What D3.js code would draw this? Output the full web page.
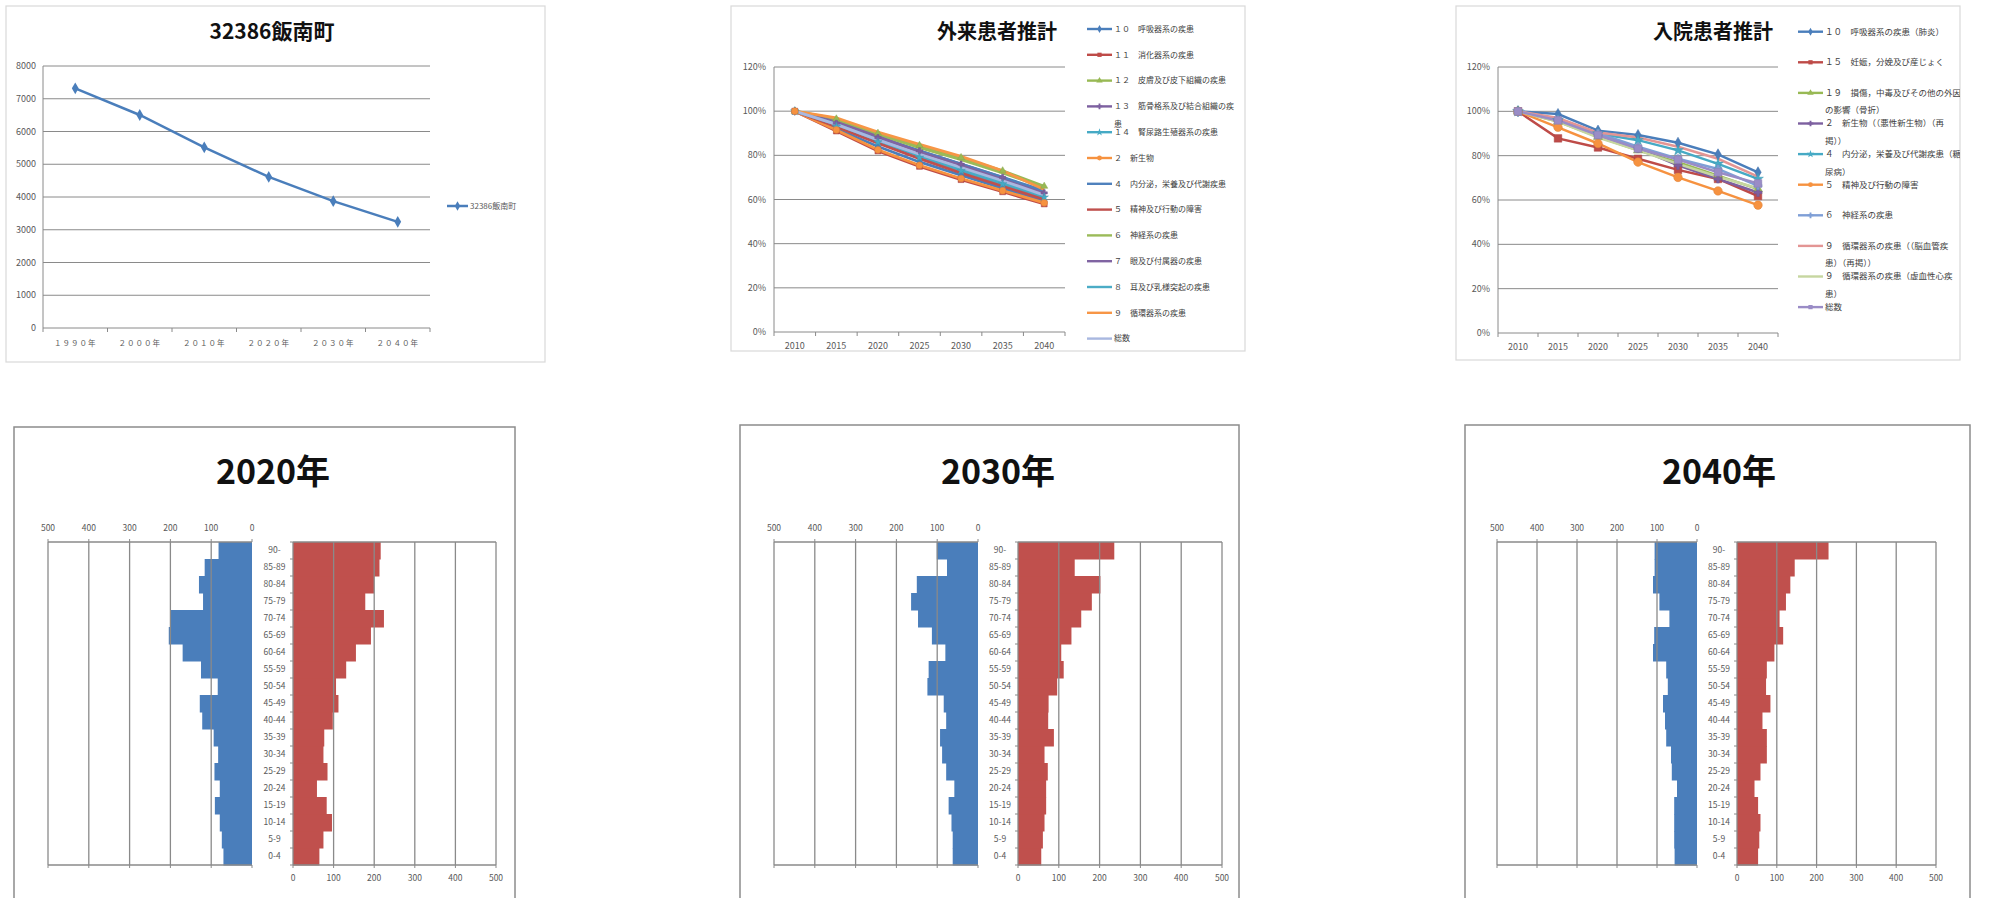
<!DOCTYPE html>
<html><head><meta charset="utf-8">
<script src="https://cdn.jsdelivr.net/npm/d3@7"></script>
<style>
html,body{margin:0;padding:0;background:#fff;}
svg{display:block;font-family:"Noto Sans CJK JP","Noto Sans",sans-serif;}
</style></head>
<body>
<svg id="c" width="1993" height="898"></svg>
<script>
// ---------------- DATA ----------------
const popTitle = "32386飯南町";
const popYears = ["１９９０年","２０００年","２０１０年","２０２０年","２０３０年","２０４０年"];
const popValues = [7317, 6504, 5518, 4614, 3872, 3242];
const popTicks = [0,1000,2000,3000,4000,5000,6000,7000,8000];

const projYears = ["2010","2015","2020","2025","2030","2035","2040"];
const pctTicks = [0,0.2,0.4,0.6,0.8,1.0,1.2];

const outTitle = "外来患者推計";
const outNames = [
  "１０　呼吸器系の疾患","１１　消化器系の疾患","１２　皮膚及び皮下組織の疾患",
  "１３　筋骨格系及び結合組織の疾|患","１４　腎尿路生殖器系の疾患","２　新生物",
  "４　内分泌，栄養及び代謝疾患","５　精神及び行動の障害","６　神経系の疾患",
  "７　眼及び付属器の疾患","８　耳及び乳様突起の疾患","９　循環器系の疾患","総数"];
const outValues = [
  [1.00,0.92,0.84,0.77,0.71,0.65,0.595],
  [1.00,0.91,0.82,0.75,0.69,0.635,0.58],
  [1.00,0.965,0.90,0.845,0.79,0.73,0.66],
  [1.00,0.945,0.88,0.82,0.76,0.70,0.63],
  [1.00,0.93,0.86,0.79,0.73,0.67,0.61],
  [1.00,0.915,0.825,0.755,0.695,0.64,0.585],
  [1.00,0.95,0.885,0.82,0.76,0.70,0.64],
  [1.00,0.93,0.855,0.785,0.72,0.66,0.60],
  [1.00,0.96,0.895,0.835,0.78,0.72,0.655],
  [1.00,0.95,0.885,0.815,0.755,0.69,0.625],
  [1.00,0.94,0.87,0.80,0.74,0.68,0.615],
  [1.00,0.97,0.905,0.85,0.795,0.73,0.645],
  [1.00,0.94,0.87,0.805,0.745,0.685,0.62]];
const outColors = ["#4A7EBB","#BE4B48","#98B954","#7D60A0","#46AAC5","#F69240",
  "#4F81BD","#C0504D","#9BBB59","#8064A2","#4BACC6","#F79646","#A9B8E0"];
const outMarkers = ["diamond","square","triangle","cross","star","circle",null,null,null,null,null,null,null];

const inTitle = "入院患者推計";
const inNames = [
  "１０　呼吸器系の疾患（肺炎）","１５　妊娠，分娩及び産じょく",
  "１９　損傷，中毒及びその他の外因|の影響（骨折）","２　新生物（（悪性新生物）（再|掲））",
  "４　内分泌，栄養及び代謝疾患（糖|尿病）","５　精神及び行動の障害","６　神経系の疾患",
  "９　循環器系の疾患（（脳血管疾|患）（再掲））","９　循環器系の疾患（虚血性心疾|患）","総数"];
const inValues = [
  [1.00,0.988,0.913,0.893,0.858,0.806,0.725],
  [1.00,0.878,0.837,0.786,0.736,0.695,0.618],
  [1.00,0.954,0.885,0.824,0.771,0.710,0.649],
  [1.00,0.959,0.893,0.832,0.756,0.695,0.634],
  [1.00,0.960,0.900,0.870,0.824,0.763,0.695],
  [1.00,0.928,0.855,0.771,0.702,0.641,0.577],
  [1.00,0.962,0.901,0.840,0.786,0.740,0.664],
  [1.00,0.970,0.904,0.882,0.840,0.786,0.705],
  [1.00,0.954,0.882,0.824,0.763,0.705,0.653],
  [1.00,0.959,0.893,0.832,0.782,0.725,0.675]];
const inColors = ["#4A7EBB","#BE4B48","#98B954","#7D60A0","#46AAC5","#F69240",
  "#7F9FD6","#E39594","#C6D6A0","#9A8CC6"];
const inMarkers = ["diamond","square","triangle","cross","star","circle","cross",null,null,"square"];

const ageGroups = ["0-4","5-9","10-14","15-19","20-24","25-29","30-34","35-39","40-44","45-49",
  "50-54","55-59","60-64","65-69","70-74","75-79","80-84","85-89","90-"];
const pyrTicks = [0,100,200,300,400,500];
// values listed from 0-4 up to 90-
const male2020   = [70,74,79,91,79,92,83,94,122,128,84,125,170,204,199,120,130,116,82];
const female2020 = [65,75,96,83,59,85,75,77,98,112,106,131,155,192,224,178,200,213,216];
const male2030   = [62,62,65,72,58,78,88,93,78,84,124,121,80,113,147,164,150,76,101];
const female2030 = [57,61,65,69,69,73,65,88,74,75,96,112,106,131,155,181,202,139,236];
const male2040   = [56,57,57,57,50,63,65,77,80,85,73,77,110,107,69,94,110,106,106];
const female2040 = [53,56,59,53,44,59,75,75,64,84,73,75,94,116,107,123,134,145,230];

// ---------------- DRAW ----------------
const svg = d3.select("#c");
svg.append("rect").attr("width",1993).attr("height",898).attr("fill","#fff");
const GRID = "#8a8a8a", TXT = "#595959";

function frame(x0,y0,x1,y1,col,w){
  svg.append("rect").attr("x",x0).attr("y",y0).attr("width",x1-x0).attr("height",y1-y0)
    .attr("fill","#fff").attr("stroke",col).attr("stroke-width",w);
}
function symbolType(n){
  return {diamond:d3.symbolDiamond,square:d3.symbolSquare,triangle:d3.symbolTriangle,
    cross:d3.symbolCross,star:d3.symbolStar,circle:d3.symbolCircle}[n];
}

// ---- Chart 1: population line ----
frame(6,6,545,362,"#d9d9d9",1.2);
{
  const g = svg.append("g");
  const x = d3.scaleBand().domain(popYears).range([43,430]);
  const y = d3.scaleLinear().domain([0,8000]).range([328,66]);
  g.selectAll(".gl").data(popTicks).join("line")
    .attr("x1",43).attr("x2",430).attr("y1",d=>y(d)).attr("y2",d=>y(d))
    .attr("stroke",GRID).attr("stroke-width",1);
  g.append("line").attr("x1",43).attr("x2",43).attr("y1",66).attr("y2",328).attr("stroke",GRID);
  const bounds = popYears.map(d=>x(d)).concat([430]);
  g.selectAll(".tk").data(bounds).join("line")
    .attr("x1",d=>d).attr("x2",d=>d).attr("y1",328).attr("y2",332).attr("stroke",GRID);
  g.selectAll(".yl").data(popTicks).join("text")
    .attr("x",36).attr("y",d=>y(d)).attr("dy","0.35em").attr("text-anchor","end")
    .attr("font-size",9).attr("fill",TXT).text(d=>d);
  g.selectAll(".xl").data(popYears).join("text")
    .attr("x",d=>x(d)+x.bandwidth()/2).attr("y",343).attr("dy","0.35em").attr("text-anchor","middle")
    .attr("font-size",7.5).attr("letter-spacing",1).attr("fill",TXT).text(d=>d);
  const line = d3.line().x((d,i)=>x(popYears[i])+x.bandwidth()/2).y(d=>y(d));
  g.append("path").attr("d",line(popValues)).attr("fill","none").attr("stroke","#4A7EBB").attr("stroke-width",2.5);
  g.selectAll(".mk").data(popValues).join("path")
    .attr("transform",(d,i)=>`translate(${x(popYears[i])+x.bandwidth()/2},${y(d)})`)
    .attr("d",d3.symbol(d3.symbolDiamond,40)).attr("fill","#4A7EBB");
  g.append("text").attr("x",272).attr("y",32).attr("dy","0.35em").attr("text-anchor","middle")
    .attr("font-size",21).attr("font-weight","bold").attr("fill","#111").text(popTitle);
  // legend
  g.append("line").attr("x1",447).attr("x2",468).attr("y1",206).attr("y2",206).attr("stroke","#4A7EBB").attr("stroke-width",2.5);
  g.append("path").attr("transform","translate(457.5,206)").attr("d",d3.symbol(d3.symbolDiamond,25)).attr("fill","#4A7EBB");
  g.append("text").attr("x",470).attr("y",206).attr("dy","0.35em").attr("font-size",8).attr("fill",TXT).text(popTitle);
}

// ---- Generic percentage line chart ----
function pctChart(cfg){
  frame(cfg.frame[0],cfg.frame[1],cfg.frame[2],cfg.frame[3],"#d9d9d9",1.2);
  const clipId = "clip"+cfg.id;
  svg.append("clipPath").attr("id",clipId).append("rect")
    .attr("x",cfg.frame[0]).attr("y",cfg.frame[1]).attr("width",cfg.frame[2]-cfg.frame[0]).attr("height",cfg.frame[3]-cfg.frame[1]);
  const g = svg.append("g").attr("clip-path",`url(#${clipId})`);
  const [L,T,R,B] = cfg.plot;
  const x = d3.scaleBand().domain(projYears).range([L,R]);
  const y = d3.scaleLinear().domain([0,1.2]).range([B,T]);
  g.selectAll(".gl").data(pctTicks).join("line")
    .attr("x1",L).attr("x2",R).attr("y1",d=>y(d)).attr("y2",d=>y(d)).attr("stroke",GRID);
  g.append("line").attr("x1",L).attr("x2",L).attr("y1",T).attr("y2",B).attr("stroke",GRID);
  const bounds = projYears.map(d=>x(d)).concat([R]);
  g.selectAll(".tk").data(bounds).join("line")
    .attr("x1",d=>d).attr("x2",d=>d).attr("y1",B).attr("y2",B+4).attr("stroke",GRID);
  g.selectAll(".yl").data(pctTicks).join("text")
    .attr("x",L-8).attr("y",d=>y(d)).attr("dy","0.35em").attr("text-anchor","end")
    .attr("font-size",9).attr("fill",TXT).text(d3.format(".0%"));
  g.selectAll(".xl").data(projYears).join("text")
    .attr("x",d=>x(d)+x.bandwidth()/2).attr("y",B+14).attr("dy","0.35em").attr("text-anchor","middle")
    .attr("font-size",9).attr("fill",TXT).text(d=>d);
  const cx = (i)=>x(projYears[i])+x.bandwidth()/2;
  const line = d3.line().x((d,i)=>cx(i)).y(d=>y(d));
  cfg.values.forEach((vals,s)=>{
    g.append("path").attr("d",line(vals)).attr("fill","none")
      .attr("stroke",cfg.colors[s]).attr("stroke-width",cfg.lw);
  });
  cfg.values.forEach((vals,s)=>{
    const m = cfg.markers[s];
    if(!m) return;
    g.selectAll(null).data(vals).join("path")
      .attr("transform",(d,i)=>`translate(${cx(i)},${y(d)})`)
      .attr("d",d3.symbol(symbolType(m), m==="circle"||m==="square" ? cfg.msize*1.6 : cfg.msize))
      .attr("fill",cfg.colors[s]).attr("stroke",d3.color(cfg.colors[s]).darker(0.3)).attr("stroke-width",0.5);
  });
  g.append("text").attr("x",cfg.titleX).attr("y",32).attr("dy","0.35em").attr("text-anchor","middle")
    .attr("font-size",20).attr("font-weight","bold").attr("fill","#111").text(cfg.title);
  // legend
  cfg.names.forEach((nm,s)=>{
    const yy = cfg.legY0 + s*cfg.legDY;
    g.append("line").attr("x1",cfg.legX).attr("x2",cfg.legX+25).attr("y1",yy).attr("y2",yy)
      .attr("stroke",cfg.colors[s]).attr("stroke-width",2.4);
    if(cfg.markers[s]){
      g.append("path").attr("transform",`translate(${cfg.legX+12.5},${yy})`)
        .attr("d",d3.symbol(symbolType(cfg.markers[s]),18)).attr("fill",cfg.colors[s]);
    }
    const parts = nm.split("|");
    parts.forEach((p,k)=>{
      g.append("text").attr("x",cfg.legX+27).attr("y",yy + k*cfg.wrapDY).attr("dy","0.35em")
        .attr("font-size",cfg.legFont).attr("fill","#404040").text(p);
    });
  });
}

pctChart({id:"out",frame:[731,6,1245,351],plot:[774,67,1065,332],values:outValues,colors:outColors,
  markers:outMarkers,msize:22,lw:2.8,title:outTitle,titleX:997,names:outNames,legX:1087,legY0:29,legDY:25.8,
  wrapDY:18,legFont:8});
pctChart({id:"in",frame:[1456,6,1960,360],plot:[1498,67,1778,333],values:inValues,colors:inColors,
  markers:inMarkers,msize:36,lw:2.5,title:inTitle,titleX:1713,names:inNames,legX:1798,legY0:31.7,legDY:30.6,
  wrapDY:17.5,legFont:8.5});

// ---- Pyramids ----
function pyramid(cfg){
  frame(cfg.frame[0],cfg.frame[1],cfg.frame[2],cfg.frame[3],"#8c8c8c",1.5);
  const g = svg.append("g");
  const T = 542, B = 865;
  const y = d3.scaleBand().domain(ageGroups.slice().reverse()).range([T,B]);
  const xl = d3.scaleLinear().domain([0,500]).range([cfg.l0,cfg.l500]);
  const xr = d3.scaleLinear().domain([0,500]).range([cfg.r0,cfg.r500]);
  // bars
  g.selectAll(".m").data(ageGroups).join("rect")
    .attr("x",(d,i)=>xl(cfg.male[i])).attr("width",(d,i)=>xl(0)-xl(cfg.male[i]))
    .attr("y",d=>y(d)).attr("height",y.bandwidth()+0.5).attr("fill","#4A7EBB");
  g.selectAll(".f").data(ageGroups).join("rect")
    .attr("x",xr(0)).attr("width",(d,i)=>xr(cfg.female[i])-xr(0))
    .attr("y",d=>y(d)).attr("height",y.bandwidth()+0.5).attr("fill","#C0504D");
  // grid lines
  g.selectAll(".lg").data(pyrTicks.filter(d=>d>0)).join("line")
    .attr("x1",d=>xl(d)).attr("x2",d=>xl(d)).attr("y1",T).attr("y2",B).attr("stroke",GRID).attr("stroke-width",1.3);
  g.selectAll(".rg").data(pyrTicks.filter(d=>d>0)).join("line")
    .attr("x1",d=>xr(d)).attr("x2",d=>xr(d)).attr("y1",T).attr("y2",B).attr("stroke",GRID).attr("stroke-width",1.3);
  [T,B].forEach(yy=>{
    g.append("line").attr("x1",xl(500)).attr("x2",xl(0)).attr("y1",yy).attr("y2",yy).attr("stroke",GRID).attr("stroke-width",1.3);
    g.append("line").attr("x1",xr(0)).attr("x2",xr(500)).attr("y1",yy).attr("y2",yy).attr("stroke",GRID).attr("stroke-width",1.3);
  });
  g.append("line").attr("x1",xr(0)).attr("x2",xr(0)).attr("y1",T).attr("y2",B).attr("stroke",GRID).attr("stroke-width",1.3);
  // ticks
  g.selectAll(".lt").data(pyrTicks).join("line")
    .attr("x1",d=>xl(d)).attr("x2",d=>xl(d)).attr("y1",T-3).attr("y2",T).attr("stroke",GRID);
  g.selectAll(".bt").data(pyrTicks).join("line")
    .attr("x1",d=>xl(d)).attr("x2",d=>xl(d)).attr("y1",B).attr("y2",B+3).attr("stroke",GRID);
  g.selectAll(".rt").data(pyrTicks).join("line")
    .attr("x1",d=>xr(d)).attr("x2",d=>xr(d)).attr("y1",B).attr("y2",B+3).attr("stroke",GRID);
  const yb = ageGroups.map(d=>y(d)).concat([B]);
  g.selectAll(".ct").data(yb).join("line")
    .attr("x1",xr(0)-3).attr("x2",xr(0)).attr("y1",d=>d).attr("y2",d=>d).attr("stroke",GRID);
  // labels
  g.selectAll(".ltl").data(pyrTicks).join("text")
    .attr("x",d=>xl(d)).attr("y",T-14).attr("dy","0.35em").attr("text-anchor","middle")
    .attr("font-size",8.5).attr("fill",TXT).text(d=>d);
  g.selectAll(".rtl").data(pyrTicks).join("text")
    .attr("x",d=>xr(d)).attr("y",B+13).attr("dy","0.35em").attr("text-anchor","middle")
    .attr("font-size",8.5).attr("fill",TXT).text(d=>d);
  g.selectAll(".al").data(ageGroups).join("text")
    .attr("x",(xl(0)+xr(0))/2+2).attr("y",d=>y(d)+y.bandwidth()/2).attr("dy","0.35em").attr("text-anchor","middle")
    .attr("font-size",8.5).attr("fill",TXT).text(d=>d);
  g.append("text").attr("x",cfg.titleX).attr("y",472).attr("dy","0.35em").attr("text-anchor","middle")
    .attr("font-size",34).attr("font-weight","bold").attr("fill","#111").text(cfg.title);
}
pyramid({title:"2020年",titleX:273,frame:[14,427,515,905],l500:48,l0:252,r0:293,r500:496,male:male2020,female:female2020});
pyramid({title:"2030年",titleX:998,frame:[740,425,1239,905],l500:774,l0:978,r0:1018,r500:1222,male:male2030,female:female2030});
pyramid({title:"2040年",titleX:1719,frame:[1465,425,1970,905],l500:1497,l0:1697,r0:1737,r500:1936,male:male2040,female:female2040});
</script>
</body></html>
